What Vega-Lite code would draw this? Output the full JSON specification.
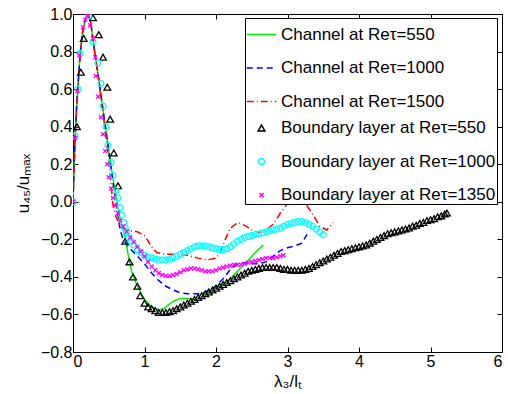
{
  "$schema": "https://vega.github.io/schema/vega-lite/v6.json",
  "width": 429,
  "height": 338,
  "autosize": {"type": "none"},
  "padding": {"left": 73, "top": 14, "right": 6, "bottom": 42},
  "background": "white",
  "config": {
    "view": {"stroke": "black", "strokeWidth": 1},
    "font": "Liberation Sans",
    "axis": {
      "grid": false,
      "domainColor": "black",
      "tickColor": "black",
      "labelColor": "black",
      "titleColor": "black",
      "labelFont": "Liberation Sans",
      "titleFont": "Liberation Sans",
      "labelFontSize": 16,
      "titleFontSize": 17,
      "titleFontWeight": "normal",
      "tickSize": -5,
      "labelPadding": 6
    },
    "legend": {
      "labelFont": "Liberation Sans",
      "labelFontSize": 17,
      "labelColor": "black",
      "strokeColor": "black",
      "fillColor": "white",
      "padding": 1,
      "rowPadding": 8.5,
      "gridAlign": "all",
      "symbolStrokeWidth": 1.5,
      "labelLimit": 400
    }
  },
  "datasets": {
    "lines": [
      {"s": "Channel at Reτ=550", "x": 0, "y": 0}, {"s": "Channel at Reτ=550", "x": 0.03, "y": 0.35}, {"s": "Channel at Reτ=550", "x": 0.05, "y": 0.5}, {"s": "Channel at Reτ=550", "x": 0.07, "y": 0.62}, {"s": "Channel at Reτ=550", "x": 0.1, "y": 0.79}, {"s": "Channel at Reτ=550", "x": 0.14, "y": 0.92}, {"s": "Channel at Reτ=550", "x": 0.18, "y": 0.98}, {"s": "Channel at Reτ=550", "x": 0.21, "y": 1.0}, {"s": "Channel at Reτ=550", "x": 0.25, "y": 0.95}, {"s": "Channel at Reτ=550", "x": 0.28, "y": 0.86}, {"s": "Channel at Reτ=550", "x": 0.32, "y": 0.76}, {"s": "Channel at Reτ=550", "x": 0.35, "y": 0.68}, {"s": "Channel at Reτ=550", "x": 0.42, "y": 0.49}, {"s": "Channel at Reτ=550", "x": 0.49, "y": 0.3}, {"s": "Channel at Reτ=550", "x": 0.56, "y": 0.12}, {"s": "Channel at Reτ=550", "x": 0.6, "y": 0.04}, {"s": "Channel at Reτ=550", "x": 0.63, "y": -0.04}, {"s": "Channel at Reτ=550", "x": 0.68, "y": -0.12}, {"s": "Channel at Reτ=550", "x": 0.73, "y": -0.19}, {"s": "Channel at Reτ=550", "x": 0.77, "y": -0.28}, {"s": "Channel at Reτ=550", "x": 0.82, "y": -0.37}, {"s": "Channel at Reτ=550", "x": 0.9, "y": -0.45}, {"s": "Channel at Reτ=550", "x": 1.0, "y": -0.52}, {"s": "Channel at Reτ=550", "x": 1.1, "y": -0.56}, {"s": "Channel at Reτ=550", "x": 1.2, "y": -0.575}, {"s": "Channel at Reτ=550", "x": 1.27, "y": -0.57}, {"s": "Channel at Reτ=550", "x": 1.33, "y": -0.55}, {"s": "Channel at Reτ=550", "x": 1.4, "y": -0.53}, {"s": "Channel at Reτ=550", "x": 1.5, "y": -0.515}, {"s": "Channel at Reτ=550", "x": 1.6, "y": -0.515}, {"s": "Channel at Reτ=550", "x": 1.7, "y": -0.52}, {"s": "Channel at Reτ=550", "x": 1.8, "y": -0.51}, {"s": "Channel at Reτ=550", "x": 1.9, "y": -0.48}, {"s": "Channel at Reτ=550", "x": 2.0, "y": -0.46}, {"s": "Channel at Reτ=550", "x": 2.1, "y": -0.44}, {"s": "Channel at Reτ=550", "x": 2.2, "y": -0.41}, {"s": "Channel at Reτ=550", "x": 2.3, "y": -0.37}, {"s": "Channel at Reτ=550", "x": 2.43, "y": -0.32}, {"s": "Channel at Reτ=550", "x": 2.55, "y": -0.27}, {"s": "Channel at Reτ=550", "x": 2.66, "y": -0.23},
      {"s": "Channel at Reτ=1000", "x": 0, "y": 0}, {"s": "Channel at Reτ=1000", "x": 0.03, "y": 0.35}, {"s": "Channel at Reτ=1000", "x": 0.05, "y": 0.5}, {"s": "Channel at Reτ=1000", "x": 0.07, "y": 0.62}, {"s": "Channel at Reτ=1000", "x": 0.1, "y": 0.79}, {"s": "Channel at Reτ=1000", "x": 0.14, "y": 0.92}, {"s": "Channel at Reτ=1000", "x": 0.18, "y": 0.98}, {"s": "Channel at Reτ=1000", "x": 0.21, "y": 1.0}, {"s": "Channel at Reτ=1000", "x": 0.25, "y": 0.95}, {"s": "Channel at Reτ=1000", "x": 0.28, "y": 0.86}, {"s": "Channel at Reτ=1000", "x": 0.32, "y": 0.76}, {"s": "Channel at Reτ=1000", "x": 0.35, "y": 0.68}, {"s": "Channel at Reτ=1000", "x": 0.42, "y": 0.49}, {"s": "Channel at Reτ=1000", "x": 0.49, "y": 0.3}, {"s": "Channel at Reτ=1000", "x": 0.56, "y": 0.1}, {"s": "Channel at Reτ=1000", "x": 0.6, "y": 0.0}, {"s": "Channel at Reτ=1000", "x": 0.66, "y": -0.15}, {"s": "Channel at Reτ=1000", "x": 0.7, "y": -0.2}, {"s": "Channel at Reτ=1000", "x": 0.8, "y": -0.25}, {"s": "Channel at Reτ=1000", "x": 0.9, "y": -0.29}, {"s": "Channel at Reτ=1000", "x": 1.0, "y": -0.33}, {"s": "Channel at Reτ=1000", "x": 1.1, "y": -0.38}, {"s": "Channel at Reτ=1000", "x": 1.2, "y": -0.42}, {"s": "Channel at Reτ=1000", "x": 1.3, "y": -0.45}, {"s": "Channel at Reτ=1000", "x": 1.4, "y": -0.47}, {"s": "Channel at Reτ=1000", "x": 1.5, "y": -0.485}, {"s": "Channel at Reτ=1000", "x": 1.6, "y": -0.49}, {"s": "Channel at Reτ=1000", "x": 1.7, "y": -0.49}, {"s": "Channel at Reτ=1000", "x": 1.8, "y": -0.49}, {"s": "Channel at Reτ=1000", "x": 1.9, "y": -0.47}, {"s": "Channel at Reτ=1000", "x": 2.0, "y": -0.45}, {"s": "Channel at Reτ=1000", "x": 2.1, "y": -0.41}, {"s": "Channel at Reτ=1000", "x": 2.2, "y": -0.36}, {"s": "Channel at Reτ=1000", "x": 2.3, "y": -0.33}, {"s": "Channel at Reτ=1000", "x": 2.4, "y": -0.325}, {"s": "Channel at Reτ=1000", "x": 2.5, "y": -0.33}, {"s": "Channel at Reτ=1000", "x": 2.6, "y": -0.33}, {"s": "Channel at Reτ=1000", "x": 2.7, "y": -0.32}, {"s": "Channel at Reτ=1000", "x": 2.8, "y": -0.29}, {"s": "Channel at Reτ=1000", "x": 2.9, "y": -0.26}, {"s": "Channel at Reτ=1000", "x": 3.0, "y": -0.245}, {"s": "Channel at Reτ=1000", "x": 3.1, "y": -0.235}, {"s": "Channel at Reτ=1000", "x": 3.2, "y": -0.22}, {"s": "Channel at Reτ=1000", "x": 3.28, "y": -0.17},
      {"s": "Channel at Reτ=1500", "x": 0, "y": 0}, {"s": "Channel at Reτ=1500", "x": 0.03, "y": 0.35}, {"s": "Channel at Reτ=1500", "x": 0.05, "y": 0.5}, {"s": "Channel at Reτ=1500", "x": 0.07, "y": 0.62}, {"s": "Channel at Reτ=1500", "x": 0.1, "y": 0.79}, {"s": "Channel at Reτ=1500", "x": 0.14, "y": 0.92}, {"s": "Channel at Reτ=1500", "x": 0.18, "y": 0.98}, {"s": "Channel at Reτ=1500", "x": 0.21, "y": 1.0}, {"s": "Channel at Reτ=1500", "x": 0.25, "y": 0.95}, {"s": "Channel at Reτ=1500", "x": 0.28, "y": 0.86}, {"s": "Channel at Reτ=1500", "x": 0.32, "y": 0.75}, {"s": "Channel at Reτ=1500", "x": 0.35, "y": 0.67}, {"s": "Channel at Reτ=1500", "x": 0.42, "y": 0.47}, {"s": "Channel at Reτ=1500", "x": 0.49, "y": 0.26}, {"s": "Channel at Reτ=1500", "x": 0.53, "y": 0.1}, {"s": "Channel at Reτ=1500", "x": 0.56, "y": -0.02}, {"s": "Channel at Reτ=1500", "x": 0.6, "y": -0.08}, {"s": "Channel at Reτ=1500", "x": 0.65, "y": -0.12}, {"s": "Channel at Reτ=1500", "x": 0.7, "y": -0.14}, {"s": "Channel at Reτ=1500", "x": 0.8, "y": -0.155}, {"s": "Channel at Reτ=1500", "x": 0.9, "y": -0.16}, {"s": "Channel at Reτ=1500", "x": 1.0, "y": -0.18}, {"s": "Channel at Reτ=1500", "x": 1.05, "y": -0.21}, {"s": "Channel at Reτ=1500", "x": 1.1, "y": -0.24}, {"s": "Channel at Reτ=1500", "x": 1.17, "y": -0.27}, {"s": "Channel at Reτ=1500", "x": 1.3, "y": -0.28}, {"s": "Channel at Reτ=1500", "x": 1.45, "y": -0.28}, {"s": "Channel at Reτ=1500", "x": 1.6, "y": -0.285}, {"s": "Channel at Reτ=1500", "x": 1.75, "y": -0.3}, {"s": "Channel at Reτ=1500", "x": 1.87, "y": -0.31}, {"s": "Channel at Reτ=1500", "x": 2.0, "y": -0.3}, {"s": "Channel at Reτ=1500", "x": 2.06, "y": -0.27}, {"s": "Channel at Reτ=1500", "x": 2.12, "y": -0.21}, {"s": "Channel at Reτ=1500", "x": 2.2, "y": -0.14}, {"s": "Channel at Reτ=1500", "x": 2.31, "y": -0.11}, {"s": "Channel at Reτ=1500", "x": 2.42, "y": -0.13}, {"s": "Channel at Reτ=1500", "x": 2.5, "y": -0.15}, {"s": "Channel at Reτ=1500", "x": 2.6, "y": -0.165}, {"s": "Channel at Reτ=1500", "x": 2.7, "y": -0.15}, {"s": "Channel at Reτ=1500", "x": 2.8, "y": -0.12}, {"s": "Channel at Reτ=1500", "x": 2.9, "y": -0.06}, {"s": "Channel at Reτ=1500", "x": 3.0, "y": -0.01}, {"s": "Channel at Reτ=1500", "x": 3.08, "y": 0.015}, {"s": "Channel at Reτ=1500", "x": 3.17, "y": 0.02}, {"s": "Channel at Reτ=1500", "x": 3.27, "y": -0.02}, {"s": "Channel at Reτ=1500", "x": 3.36, "y": -0.07}, {"s": "Channel at Reτ=1500", "x": 3.45, "y": -0.13}, {"s": "Channel at Reτ=1500", "x": 3.55, "y": -0.15}, {"s": "Channel at Reτ=1500", "x": 3.64, "y": -0.11}
    ],
    "points": [
      {"s": "Boundary layer at Reτ=550", "x": 0.055, "y": 0.4}, {"s": "Boundary layer at Reτ=550", "x": 0.11, "y": 0.69}, {"s": "Boundary layer at Reτ=550", "x": 0.15, "y": 0.87}, {"s": "Boundary layer at Reτ=550", "x": 0.28, "y": 0.98}, {"s": "Boundary layer at Reτ=550", "x": 0.36, "y": 0.89}, {"s": "Boundary layer at Reτ=550", "x": 0.42, "y": 0.77}, {"s": "Boundary layer at Reτ=550", "x": 0.48, "y": 0.61}, {"s": "Boundary layer at Reτ=550", "x": 0.52, "y": 0.44}, {"s": "Boundary layer at Reτ=550", "x": 0.57, "y": 0.26}, {"s": "Boundary layer at Reτ=550", "x": 0.63, "y": 0.085}, {"s": "Boundary layer at Reτ=550", "x": 0.73, "y": -0.21}, {"s": "Boundary layer at Reτ=550", "x": 0.79, "y": -0.32}, {"s": "Boundary layer at Reτ=550", "x": 0.84, "y": -0.4}, {"s": "Boundary layer at Reτ=550", "x": 0.9, "y": -0.45}, {"s": "Boundary layer at Reτ=550", "x": 0.94, "y": -0.5}, {"s": "Boundary layer at Reτ=550", "x": 1.0, "y": -0.54}, {"s": "Boundary layer at Reτ=550", "x": 1.05, "y": -0.56}, {"s": "Boundary layer at Reτ=550", "x": 1.1, "y": -0.57}, {"s": "Boundary layer at Reτ=550", "x": 1.15, "y": -0.58}, {"s": "Boundary layer at Reτ=550", "x": 1.2, "y": -0.59}, {"s": "Boundary layer at Reτ=550", "x": 1.25, "y": -0.59}, {"s": "Boundary layer at Reτ=550", "x": 1.3, "y": -0.59}, {"s": "Boundary layer at Reτ=550", "x": 1.35, "y": -0.585}, {"s": "Boundary layer at Reτ=550", "x": 1.4, "y": -0.58}, {"s": "Boundary layer at Reτ=550", "x": 1.45, "y": -0.57}, {"s": "Boundary layer at Reτ=550", "x": 1.5, "y": -0.56}, {"s": "Boundary layer at Reτ=550", "x": 1.55, "y": -0.55}, {"s": "Boundary layer at Reτ=550", "x": 1.6, "y": -0.54}, {"s": "Boundary layer at Reτ=550", "x": 1.65, "y": -0.53}, {"s": "Boundary layer at Reτ=550", "x": 1.7, "y": -0.52}, {"s": "Boundary layer at Reτ=550", "x": 1.75, "y": -0.51}, {"s": "Boundary layer at Reτ=550", "x": 1.8, "y": -0.5}, {"s": "Boundary layer at Reτ=550", "x": 1.85, "y": -0.49}, {"s": "Boundary layer at Reτ=550", "x": 1.9, "y": -0.48}, {"s": "Boundary layer at Reτ=550", "x": 1.95, "y": -0.47}, {"s": "Boundary layer at Reτ=550", "x": 2.0, "y": -0.46}, {"s": "Boundary layer at Reτ=550", "x": 2.05, "y": -0.45}, {"s": "Boundary layer at Reτ=550", "x": 2.1, "y": -0.44}, {"s": "Boundary layer at Reτ=550", "x": 2.15, "y": -0.43}, {"s": "Boundary layer at Reτ=550", "x": 2.2, "y": -0.42}, {"s": "Boundary layer at Reτ=550", "x": 2.25, "y": -0.41}, {"s": "Boundary layer at Reτ=550", "x": 2.3, "y": -0.4}, {"s": "Boundary layer at Reτ=550", "x": 2.35, "y": -0.39}, {"s": "Boundary layer at Reτ=550", "x": 2.4, "y": -0.38}, {"s": "Boundary layer at Reτ=550", "x": 2.45, "y": -0.37}, {"s": "Boundary layer at Reτ=550", "x": 2.5, "y": -0.365}, {"s": "Boundary layer at Reτ=550", "x": 2.55, "y": -0.36}, {"s": "Boundary layer at Reτ=550", "x": 2.6, "y": -0.355}, {"s": "Boundary layer at Reτ=550", "x": 2.65, "y": -0.35}, {"s": "Boundary layer at Reτ=550", "x": 2.7, "y": -0.35}, {"s": "Boundary layer at Reτ=550", "x": 2.75, "y": -0.35}, {"s": "Boundary layer at Reτ=550", "x": 2.8, "y": -0.35}, {"s": "Boundary layer at Reτ=550", "x": 2.85, "y": -0.35}, {"s": "Boundary layer at Reτ=550", "x": 2.9, "y": -0.355}, {"s": "Boundary layer at Reτ=550", "x": 2.95, "y": -0.36}, {"s": "Boundary layer at Reτ=550", "x": 3.0, "y": -0.36}, {"s": "Boundary layer at Reτ=550", "x": 3.05, "y": -0.365}, {"s": "Boundary layer at Reτ=550", "x": 3.1, "y": -0.365}, {"s": "Boundary layer at Reτ=550", "x": 3.15, "y": -0.365}, {"s": "Boundary layer at Reτ=550", "x": 3.2, "y": -0.365}, {"s": "Boundary layer at Reτ=550", "x": 3.25, "y": -0.36}, {"s": "Boundary layer at Reτ=550", "x": 3.3, "y": -0.355}, {"s": "Boundary layer at Reτ=550", "x": 3.35, "y": -0.345}, {"s": "Boundary layer at Reτ=550", "x": 3.4, "y": -0.335}, {"s": "Boundary layer at Reτ=550", "x": 3.45, "y": -0.325}, {"s": "Boundary layer at Reτ=550", "x": 3.5, "y": -0.315}, {"s": "Boundary layer at Reτ=550", "x": 3.55, "y": -0.305}, {"s": "Boundary layer at Reτ=550", "x": 3.6, "y": -0.295}, {"s": "Boundary layer at Reτ=550", "x": 3.65, "y": -0.285}, {"s": "Boundary layer at Reτ=550", "x": 3.7, "y": -0.275}, {"s": "Boundary layer at Reτ=550", "x": 3.75, "y": -0.265}, {"s": "Boundary layer at Reτ=550", "x": 3.8, "y": -0.26}, {"s": "Boundary layer at Reτ=550", "x": 3.85, "y": -0.255}, {"s": "Boundary layer at Reτ=550", "x": 3.9, "y": -0.25}, {"s": "Boundary layer at Reτ=550", "x": 3.95, "y": -0.245}, {"s": "Boundary layer at Reτ=550", "x": 4.0, "y": -0.24}, {"s": "Boundary layer at Reτ=550", "x": 4.05, "y": -0.235}, {"s": "Boundary layer at Reτ=550", "x": 4.1, "y": -0.23}, {"s": "Boundary layer at Reτ=550", "x": 4.15, "y": -0.22}, {"s": "Boundary layer at Reτ=550", "x": 4.2, "y": -0.21}, {"s": "Boundary layer at Reτ=550", "x": 4.25, "y": -0.2}, {"s": "Boundary layer at Reτ=550", "x": 4.3, "y": -0.19}, {"s": "Boundary layer at Reτ=550", "x": 4.35, "y": -0.18}, {"s": "Boundary layer at Reτ=550", "x": 4.4, "y": -0.17}, {"s": "Boundary layer at Reτ=550", "x": 4.45, "y": -0.165}, {"s": "Boundary layer at Reτ=550", "x": 4.5, "y": -0.16}, {"s": "Boundary layer at Reτ=550", "x": 4.55, "y": -0.155}, {"s": "Boundary layer at Reτ=550", "x": 4.6, "y": -0.15}, {"s": "Boundary layer at Reτ=550", "x": 4.65, "y": -0.145}, {"s": "Boundary layer at Reτ=550", "x": 4.7, "y": -0.14}, {"s": "Boundary layer at Reτ=550", "x": 4.75, "y": -0.13}, {"s": "Boundary layer at Reτ=550", "x": 4.8, "y": -0.125}, {"s": "Boundary layer at Reτ=550", "x": 4.85, "y": -0.115}, {"s": "Boundary layer at Reτ=550", "x": 4.9, "y": -0.11}, {"s": "Boundary layer at Reτ=550", "x": 4.95, "y": -0.1}, {"s": "Boundary layer at Reτ=550", "x": 5.0, "y": -0.095}, {"s": "Boundary layer at Reτ=550", "x": 5.05, "y": -0.09}, {"s": "Boundary layer at Reτ=550", "x": 5.1, "y": -0.08}, {"s": "Boundary layer at Reτ=550", "x": 5.15, "y": -0.075}, {"s": "Boundary layer at Reτ=550", "x": 5.2, "y": -0.065}, {"s": "Boundary layer at Reτ=550", "x": 5.23, "y": -0.06},
      {"s": "Boundary layer at Reτ=1000", "x": 0, "y": 0}, {"s": "Boundary layer at Reτ=1000", "x": 0.03, "y": 0.35}, {"s": "Boundary layer at Reτ=1000", "x": 0.07, "y": 0.6}, {"s": "Boundary layer at Reτ=1000", "x": 0.1, "y": 0.79}, {"s": "Boundary layer at Reτ=1000", "x": 0.22, "y": 0.99}, {"s": "Boundary layer at Reτ=1000", "x": 0.28, "y": 0.85}, {"s": "Boundary layer at Reτ=1000", "x": 0.35, "y": 0.74}, {"s": "Boundary layer at Reτ=1000", "x": 0.39, "y": 0.63}, {"s": "Boundary layer at Reτ=1000", "x": 0.42, "y": 0.51}, {"s": "Boundary layer at Reτ=1000", "x": 0.46, "y": 0.4}, {"s": "Boundary layer at Reτ=1000", "x": 0.49, "y": 0.3}, {"s": "Boundary layer at Reτ=1000", "x": 0.53, "y": 0.21}, {"s": "Boundary layer at Reτ=1000", "x": 0.56, "y": 0.14}, {"s": "Boundary layer at Reτ=1000", "x": 0.6, "y": 0.06}, {"s": "Boundary layer at Reτ=1000", "x": 0.63, "y": 0.02}, {"s": "Boundary layer at Reτ=1000", "x": 0.66, "y": -0.03}, {"s": "Boundary layer at Reτ=1000", "x": 0.68, "y": -0.07}, {"s": "Boundary layer at Reτ=1000", "x": 0.71, "y": -0.11}, {"s": "Boundary layer at Reτ=1000", "x": 0.73, "y": -0.14}, {"s": "Boundary layer at Reτ=1000", "x": 0.75, "y": -0.16}, {"s": "Boundary layer at Reτ=1000", "x": 0.78, "y": -0.19}, {"s": "Boundary layer at Reτ=1000", "x": 0.81, "y": -0.21}, {"s": "Boundary layer at Reτ=1000", "x": 0.85, "y": -0.23}, {"s": "Boundary layer at Reτ=1000", "x": 0.9, "y": -0.255}, {"s": "Boundary layer at Reτ=1000", "x": 0.95, "y": -0.27}, {"s": "Boundary layer at Reτ=1000", "x": 1.0, "y": -0.285}, {"s": "Boundary layer at Reτ=1000", "x": 1.05, "y": -0.295}, {"s": "Boundary layer at Reτ=1000", "x": 1.1, "y": -0.3}, {"s": "Boundary layer at Reτ=1000", "x": 1.15, "y": -0.305}, {"s": "Boundary layer at Reτ=1000", "x": 1.2, "y": -0.31}, {"s": "Boundary layer at Reτ=1000", "x": 1.25, "y": -0.31}, {"s": "Boundary layer at Reτ=1000", "x": 1.3, "y": -0.31}, {"s": "Boundary layer at Reτ=1000", "x": 1.35, "y": -0.305}, {"s": "Boundary layer at Reτ=1000", "x": 1.4, "y": -0.3}, {"s": "Boundary layer at Reτ=1000", "x": 1.45, "y": -0.29}, {"s": "Boundary layer at Reτ=1000", "x": 1.5, "y": -0.28}, {"s": "Boundary layer at Reτ=1000", "x": 1.55, "y": -0.27}, {"s": "Boundary layer at Reτ=1000", "x": 1.6, "y": -0.26}, {"s": "Boundary layer at Reτ=1000", "x": 1.65, "y": -0.25}, {"s": "Boundary layer at Reτ=1000", "x": 1.7, "y": -0.24}, {"s": "Boundary layer at Reτ=1000", "x": 1.75, "y": -0.235}, {"s": "Boundary layer at Reτ=1000", "x": 1.8, "y": -0.235}, {"s": "Boundary layer at Reτ=1000", "x": 1.85, "y": -0.235}, {"s": "Boundary layer at Reτ=1000", "x": 1.9, "y": -0.24}, {"s": "Boundary layer at Reτ=1000", "x": 1.95, "y": -0.245}, {"s": "Boundary layer at Reτ=1000", "x": 2.0, "y": -0.25}, {"s": "Boundary layer at Reτ=1000", "x": 2.05, "y": -0.255}, {"s": "Boundary layer at Reτ=1000", "x": 2.1, "y": -0.255}, {"s": "Boundary layer at Reτ=1000", "x": 2.15, "y": -0.25}, {"s": "Boundary layer at Reτ=1000", "x": 2.2, "y": -0.24}, {"s": "Boundary layer at Reτ=1000", "x": 2.25, "y": -0.225}, {"s": "Boundary layer at Reτ=1000", "x": 2.3, "y": -0.21}, {"s": "Boundary layer at Reτ=1000", "x": 2.35, "y": -0.2}, {"s": "Boundary layer at Reτ=1000", "x": 2.4, "y": -0.19}, {"s": "Boundary layer at Reτ=1000", "x": 2.45, "y": -0.185}, {"s": "Boundary layer at Reτ=1000", "x": 2.5, "y": -0.18}, {"s": "Boundary layer at Reτ=1000", "x": 2.55, "y": -0.175}, {"s": "Boundary layer at Reτ=1000", "x": 2.6, "y": -0.17}, {"s": "Boundary layer at Reτ=1000", "x": 2.65, "y": -0.165}, {"s": "Boundary layer at Reτ=1000", "x": 2.7, "y": -0.16}, {"s": "Boundary layer at Reτ=1000", "x": 2.75, "y": -0.155}, {"s": "Boundary layer at Reτ=1000", "x": 2.8, "y": -0.15}, {"s": "Boundary layer at Reτ=1000", "x": 2.85, "y": -0.145}, {"s": "Boundary layer at Reτ=1000", "x": 2.9, "y": -0.14}, {"s": "Boundary layer at Reτ=1000", "x": 2.95, "y": -0.13}, {"s": "Boundary layer at Reτ=1000", "x": 3.0, "y": -0.12}, {"s": "Boundary layer at Reτ=1000", "x": 3.05, "y": -0.115}, {"s": "Boundary layer at Reτ=1000", "x": 3.1, "y": -0.11}, {"s": "Boundary layer at Reτ=1000", "x": 3.15, "y": -0.105}, {"s": "Boundary layer at Reτ=1000", "x": 3.2, "y": -0.105}, {"s": "Boundary layer at Reτ=1000", "x": 3.25, "y": -0.11}, {"s": "Boundary layer at Reτ=1000", "x": 3.3, "y": -0.12}, {"s": "Boundary layer at Reτ=1000", "x": 3.35, "y": -0.13}, {"s": "Boundary layer at Reτ=1000", "x": 3.4, "y": -0.145}, {"s": "Boundary layer at Reτ=1000", "x": 3.45, "y": -0.16}, {"s": "Boundary layer at Reτ=1000", "x": 3.5, "y": -0.175},
      {"s": "Boundary layer at Reτ=1350", "x": 0, "y": 0}, {"s": "Boundary layer at Reτ=1350", "x": 0.03, "y": 0.34}, {"s": "Boundary layer at Reτ=1350", "x": 0.06, "y": 0.59}, {"s": "Boundary layer at Reτ=1350", "x": 0.09, "y": 0.78}, {"s": "Boundary layer at Reτ=1350", "x": 0.14, "y": 0.93}, {"s": "Boundary layer at Reτ=1350", "x": 0.17, "y": 0.97}, {"s": "Boundary layer at Reτ=1350", "x": 0.21, "y": 0.99}, {"s": "Boundary layer at Reτ=1350", "x": 0.24, "y": 0.94}, {"s": "Boundary layer at Reτ=1350", "x": 0.28, "y": 0.87}, {"s": "Boundary layer at Reτ=1350", "x": 0.31, "y": 0.77}, {"s": "Boundary layer at Reτ=1350", "x": 0.32, "y": 0.67}, {"s": "Boundary layer at Reτ=1350", "x": 0.35, "y": 0.56}, {"s": "Boundary layer at Reτ=1350", "x": 0.39, "y": 0.45}, {"s": "Boundary layer at Reτ=1350", "x": 0.42, "y": 0.36}, {"s": "Boundary layer at Reτ=1350", "x": 0.45, "y": 0.27}, {"s": "Boundary layer at Reτ=1350", "x": 0.48, "y": 0.2}, {"s": "Boundary layer at Reτ=1350", "x": 0.5, "y": 0.13}, {"s": "Boundary layer at Reτ=1350", "x": 0.53, "y": 0.07}, {"s": "Boundary layer at Reτ=1350", "x": 0.56, "y": 0.02}, {"s": "Boundary layer at Reτ=1350", "x": 0.59, "y": -0.02}, {"s": "Boundary layer at Reτ=1350", "x": 0.63, "y": -0.06}, {"s": "Boundary layer at Reτ=1350", "x": 0.66, "y": -0.1}, {"s": "Boundary layer at Reτ=1350", "x": 0.7, "y": -0.13}, {"s": "Boundary layer at Reτ=1350", "x": 0.75, "y": -0.16}, {"s": "Boundary layer at Reτ=1350", "x": 0.8, "y": -0.19}, {"s": "Boundary layer at Reτ=1350", "x": 0.85, "y": -0.215}, {"s": "Boundary layer at Reτ=1350", "x": 0.9, "y": -0.24}, {"s": "Boundary layer at Reτ=1350", "x": 0.95, "y": -0.265}, {"s": "Boundary layer at Reτ=1350", "x": 1.0, "y": -0.29}, {"s": "Boundary layer at Reτ=1350", "x": 1.05, "y": -0.32}, {"s": "Boundary layer at Reτ=1350", "x": 1.1, "y": -0.345}, {"s": "Boundary layer at Reτ=1350", "x": 1.15, "y": -0.365}, {"s": "Boundary layer at Reτ=1350", "x": 1.2, "y": -0.38}, {"s": "Boundary layer at Reτ=1350", "x": 1.25, "y": -0.39}, {"s": "Boundary layer at Reτ=1350", "x": 1.3, "y": -0.395}, {"s": "Boundary layer at Reτ=1350", "x": 1.35, "y": -0.395}, {"s": "Boundary layer at Reτ=1350", "x": 1.4, "y": -0.39}, {"s": "Boundary layer at Reτ=1350", "x": 1.45, "y": -0.385}, {"s": "Boundary layer at Reτ=1350", "x": 1.5, "y": -0.375}, {"s": "Boundary layer at Reτ=1350", "x": 1.55, "y": -0.365}, {"s": "Boundary layer at Reτ=1350", "x": 1.6, "y": -0.36}, {"s": "Boundary layer at Reτ=1350", "x": 1.65, "y": -0.355}, {"s": "Boundary layer at Reτ=1350", "x": 1.7, "y": -0.355}, {"s": "Boundary layer at Reτ=1350", "x": 1.75, "y": -0.36}, {"s": "Boundary layer at Reτ=1350", "x": 1.8, "y": -0.365}, {"s": "Boundary layer at Reτ=1350", "x": 1.85, "y": -0.37}, {"s": "Boundary layer at Reτ=1350", "x": 1.9, "y": -0.37}, {"s": "Boundary layer at Reτ=1350", "x": 1.95, "y": -0.37}, {"s": "Boundary layer at Reτ=1350", "x": 2.0, "y": -0.365}, {"s": "Boundary layer at Reτ=1350", "x": 2.05, "y": -0.355}, {"s": "Boundary layer at Reτ=1350", "x": 2.1, "y": -0.35}, {"s": "Boundary layer at Reτ=1350", "x": 2.15, "y": -0.345}, {"s": "Boundary layer at Reτ=1350", "x": 2.2, "y": -0.34}, {"s": "Boundary layer at Reτ=1350", "x": 2.25, "y": -0.335}, {"s": "Boundary layer at Reτ=1350", "x": 2.3, "y": -0.335}, {"s": "Boundary layer at Reτ=1350", "x": 2.35, "y": -0.335}, {"s": "Boundary layer at Reτ=1350", "x": 2.4, "y": -0.33}, {"s": "Boundary layer at Reτ=1350", "x": 2.45, "y": -0.325}, {"s": "Boundary layer at Reτ=1350", "x": 2.5, "y": -0.32}, {"s": "Boundary layer at Reτ=1350", "x": 2.55, "y": -0.315}, {"s": "Boundary layer at Reτ=1350", "x": 2.6, "y": -0.31}, {"s": "Boundary layer at Reτ=1350", "x": 2.65, "y": -0.305}, {"s": "Boundary layer at Reτ=1350", "x": 2.7, "y": -0.3}, {"s": "Boundary layer at Reτ=1350", "x": 2.75, "y": -0.3}, {"s": "Boundary layer at Reτ=1350", "x": 2.8, "y": -0.3}, {"s": "Boundary layer at Reτ=1350", "x": 2.85, "y": -0.295}, {"s": "Boundary layer at Reτ=1350", "x": 2.9, "y": -0.29}, {"s": "Boundary layer at Reτ=1350", "x": 2.94, "y": -0.285}
    ]
  },
  "layer": [
    {
      "data": {"name": "lines"},
      "mark": {"type": "line", "strokeWidth": 1.5, "clip": true},
      "encoding": {
        "x": {"field": "x", "type": "quantitative", "scale": {"domain": [0, 6], "nice": false, "zero": false}, "axis": {"title": "λ₃/lₜ", "values": [0, 1, 2, 3, 4, 5, 6], "titlePadding": 4}},
        "y": {"field": "y", "type": "quantitative", "scale": {"domain": [-0.8, 1], "nice": false, "zero": false}, "axis": {"title": "u₄₅/uₘₐₓ", "values": [-0.8, -0.6, -0.4, -0.2, 0, 0.2, 0.4, 0.6, 0.8, 1], "titlePadding": 8}},
        "color": {"field": "s", "type": "nominal", "legend": null, "scale": {"domain": ["Channel at Reτ=550", "Channel at Reτ=1000", "Channel at Reτ=1500", "Boundary layer at Reτ=550", "Boundary layer at Reτ=1000", "Boundary layer at Reτ=1350"], "range": ["#00ee00", "#0000ff", "#ff0000", "#000000", "#00ffff", "#ff00ff"]}},
        "strokeDash": {"field": "s", "type": "nominal", "legend": null, "scale": {"domain": ["Channel at Reτ=550", "Channel at Reτ=1000", "Channel at Reτ=1500", "Boundary layer at Reτ=550", "Boundary layer at Reτ=1000", "Boundary layer at Reτ=1350"], "range": [[1, 0], [6, 4], [7, 3, 1, 3], [1, 0], [1, 0], [1, 0]]}}
      }
    },
    {
      "data": {"name": "points"},
      "mark": {"type": "point", "filled": false, "strokeWidth": 1.3, "opacity": 1, "clip": true},
      "encoding": {
        "x": {"field": "x", "type": "quantitative", "axis": {"orient": "top", "labels": false, "title": null, "values": [0, 1, 2, 3, 4, 5, 6], "domain": false}},
        "y": {"field": "y", "type": "quantitative", "axis": {"orient": "right", "labels": false, "title": null, "values": [-0.8, -0.6, -0.4, -0.2, 0, 0.2, 0.4, 0.6, 0.8, 1], "domain": false}},
        "color": {"field": "s", "type": "nominal", "legend": {"title": null, "orient": "none", "legendX": 172, "legendY": 4, "direction": "vertical"}},
        "shape": {"field": "s", "type": "nominal", "scale": {"domain": ["Channel at Reτ=550", "Channel at Reτ=1000", "Channel at Reτ=1500", "Boundary layer at Reτ=550", "Boundary layer at Reτ=1000", "Boundary layer at Reτ=1350"], "range": ["stroke", "stroke", "stroke", "triangle-up", "circle", "M-1,-1L1,1M-1,1L1,-1"]}},
        "size": {"field": "s", "type": "nominal", "scale": {"type": "ordinal", "domain": ["Channel at Reτ=550", "Channel at Reτ=1000", "Channel at Reτ=1500", "Boundary layer at Reτ=550", "Boundary layer at Reτ=1000", "Boundary layer at Reτ=1350"], "range": [870, 870, 870, 45, 34, 16]}},
        "strokeDash": {"field": "s", "type": "nominal"}
      }
    }
  ],
  "resolve": {
    "axis": {"x": "independent", "y": "independent"},
    "legend": {"color": "independent", "strokeDash": "independent", "shape": "independent", "size": "independent"}
  }
}
